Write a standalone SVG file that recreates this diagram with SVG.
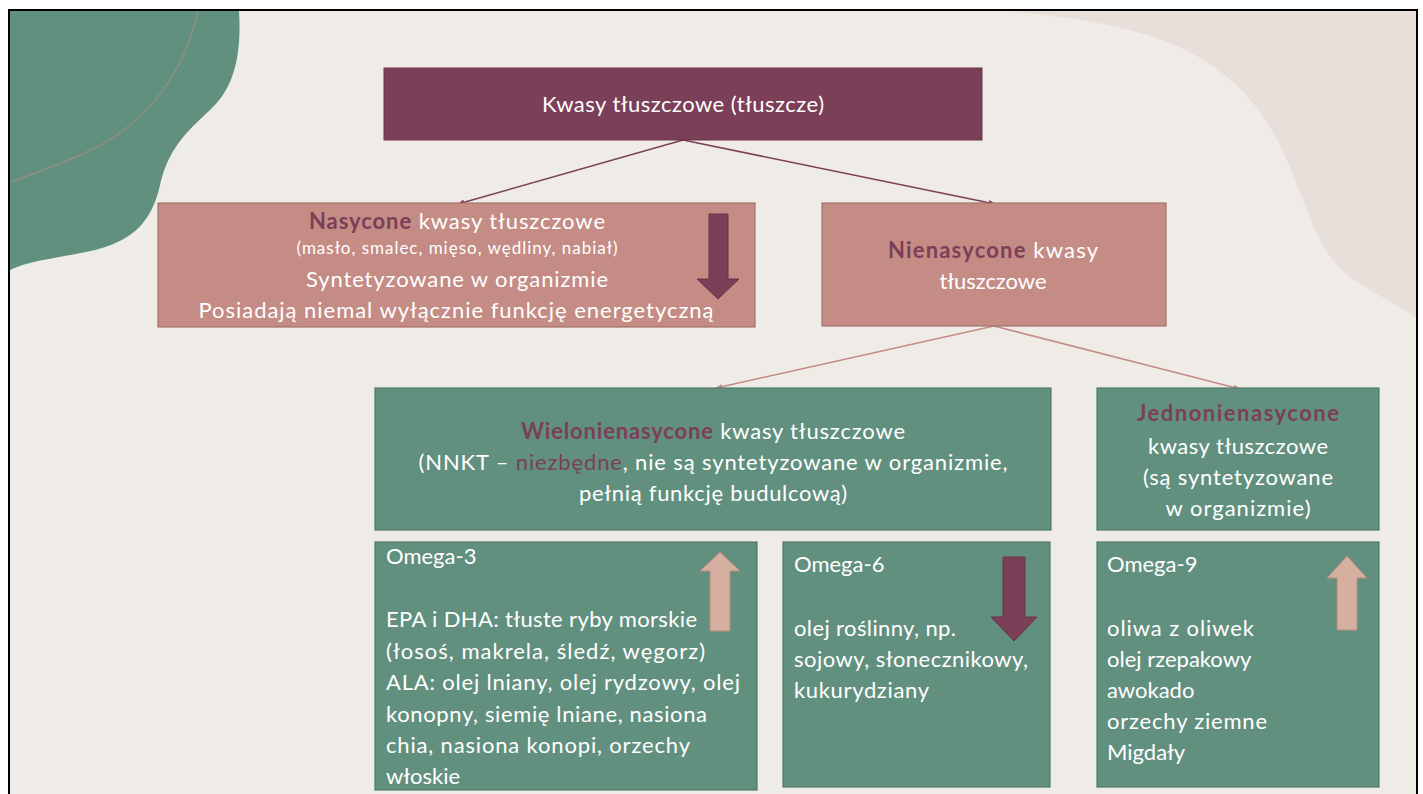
<svg xmlns="http://www.w3.org/2000/svg" width="1423" height="794" viewBox="0 0 1423 794">
  <style>
    .t { font-family: Lato, "Open Sans", "DejaVu Sans", sans-serif; font-size: 22px; fill: #ffffff; }
    .c { text-anchor: middle; }
    .sm { font-size: 17px; }
    .hl { fill: #7b3f58; font-weight: bold; }
    .hlr { fill: #7b3f58; }
    .plum { fill: #7b3f58; stroke: #6a3249; stroke-width: 1; }
    .rose { fill: #c48c85; stroke: #a5716c; stroke-width: 1.2; }
    .green { fill: #62907f; stroke: #4e7a6a; stroke-width: 1.2; }
    .up { fill: #d5afa0; stroke: #b98a80; stroke-width: 1; }
    .down { fill: #7b3f58; stroke: #6a3249; stroke-width: 1; }
    .lnP { stroke: #7b3f58; stroke-width: 1.6; fill: none; marker-end: url(#ahP); }
    .lnR { stroke: #c48c85; stroke-width: 1.6; fill: none; marker-end: url(#ahR); }
  </style>
  <defs>
    <marker id="ahP" viewBox="0 0 10 10" refX="9" refY="5" markerWidth="7" markerHeight="7" orient="auto" markerUnits="userSpaceOnUse">
      <path d="M0,1 L10,5 L0,9 z" fill="#7b3f58"/>
    </marker>
    <marker id="ahR" viewBox="0 0 10 10" refX="9" refY="5" markerWidth="7" markerHeight="7" orient="auto" markerUnits="userSpaceOnUse">
      <path d="M0,1 L10,5 L0,9 z" fill="#c48c85"/>
    </marker>
  </defs>

  <!-- page and slide background -->
  <rect x="0" y="0" width="1423" height="794" fill="#ffffff"/>
  <rect x="9" y="10" width="1408" height="800" fill="#efece7" stroke="#000000" stroke-width="2"/>

  <!-- decorative shapes -->
  <path d="M1005,11 C1080,18 1150,28 1200,58 C1245,85 1270,120 1290,167 C1310,215 1320,255 1350,277 C1375,295 1400,305 1416,318 V11 Z" fill="#e8dfda"/>
  <path d="M10,11 H239 C242,60 232,90 210,110 C185,133 168,150 160,185 C152,220 135,240 95,250 C60,258 30,260 10,270 Z" fill="#62907f"/>
  <path d="M198,11 C185,70 150,120 95,148 C60,165 30,175 10,182" fill="none" stroke="#8e8e86" stroke-width="1.5"/>

  <!-- connectors -->
  <g id="connectors">
    <line class="lnP" x1="683" y1="140" x2="458" y2="204"/>
    <line class="lnP" x1="683" y1="140" x2="995" y2="204"/>
    <line class="lnR" x1="994" y1="326" x2="716" y2="388"/>
    <line class="lnR" x1="994" y1="326" x2="1240" y2="389"/>
  </g>

  <g id="root">
    <rect class="plum" x="384" y="68" width="598" height="72"/>
    <text class="t c" x="683" y="112" textLength="282">Kwasy tłuszczowe (tłuszcze)</text>
  </g>

  <g id="saturated">
    <rect class="rose" x="158" y="203" width="597" height="124"/>
    <text class="t c" x="457" y="229" textLength="296"><tspan class="hl">Nasycone</tspan> kwasy tłuszczowe</text>
    <text class="t c sm" x="457" y="254" textLength="321">(masło, smalec, mięso, wędliny, nabiał)</text>
    <text class="t c" x="457" y="287" textLength="302">Syntetyzowane w organizmie</text>
    <text class="t c" x="456" y="318" textLength="515">Posiadają niemal wyłącznie funkcję energetyczną</text>
    <path class="down" d="M709,214 H728 V279 H739 L718,299 L697,279 H709 Z"/>
  </g>

  <g id="unsaturated">
    <rect class="rose" x="822" y="203" width="344" height="123"/>
    <text class="t c" x="993" y="258" textLength="210"><tspan class="hl">Nienasycone</tspan> kwasy</text>
    <text class="t c" x="993" y="289" textLength="107">tłuszczowe</text>
  </g>

  <g id="polyunsaturated">
    <rect class="green" x="375" y="388" width="676" height="142"/>
    <text class="t c" x="713" y="439" textLength="384"><tspan class="hl">Wielonienasycone</tspan> kwasy tłuszczowe</text>
    <text class="t c" x="713" y="470" textLength="589">(NNKT – <tspan class="hlr">niezbędne</tspan>, nie są syntetyzowane w organizmie,</text>
    <text class="t c" x="713" y="501" textLength="268">pełnią funkcję budulcową)</text>
  </g>

  <g id="monounsaturated">
    <rect class="green" x="1097" y="388" width="282" height="142"/>
    <text class="t c hl" x="1238" y="421" textLength="202">Jednonienasycone</text>
    <text class="t c" x="1238" y="454" textLength="180">kwasy tłuszczowe</text>
    <text class="t c" x="1238" y="485" textLength="190">(są syntetyzowane</text>
    <text class="t c" x="1238" y="516" textLength="145">w organizmie)</text>
  </g>

  <g id="omega3">
    <rect class="green" x="375" y="542" width="382" height="248"/>
    <text class="t" x="386" y="564">Omega-3</text>
    <text class="t" x="386" y="627" textLength="311">EPA i DHA: tłuste ryby morskie</text>
    <text class="t" x="386" y="659" textLength="319">(łosoś, makrela, śledź, węgorz)</text>
    <text class="t" x="386" y="690" textLength="354">ALA: olej lniany, olej rydzowy, olej</text>
    <text class="t" x="386" y="722" textLength="321">konopny, siemię lniane, nasiona</text>
    <text class="t" x="386" y="753" textLength="304">chia, nasiona konopi, orzechy</text>
    <text class="t" x="386" y="784">włoskie</text>
    <path class="up" d="M720,552 L740,571 H730 V631 H710 V571 H700 Z"/>
  </g>

  <g id="omega6">
    <rect class="green" x="783" y="542" width="267" height="245"/>
    <text class="t" x="794" y="572">Omega-6</text>
    <text class="t" x="794" y="636" textLength="162">olej roślinny, np.</text>
    <text class="t" x="794" y="667" textLength="234">sojowy, słonecznikowy,</text>
    <text class="t" x="794" y="698" textLength="135">kukurydziany</text>
    <path class="down" d="M1003,557 H1025 V617 H1037 L1014,641 L991,617 H1003 Z"/>
  </g>

  <g id="omega9">
    <rect class="green" x="1097" y="542" width="282" height="245"/>
    <text class="t" x="1107" y="572">Omega-9</text>
    <text class="t" x="1107" y="636" textLength="147">oliwa z oliwek</text>
    <text class="t" x="1107" y="667">olej rzepakowy</text>
    <text class="t" x="1107" y="698">awokado</text>
    <text class="t" x="1107" y="729" textLength="160">orzechy ziemne</text>
    <text class="t" x="1107" y="760">Migdały</text>
    <path class="up" d="M1347,556 L1367,578 H1357 V630 H1337 V578 H1327 Z"/>
  </g>
</svg>
